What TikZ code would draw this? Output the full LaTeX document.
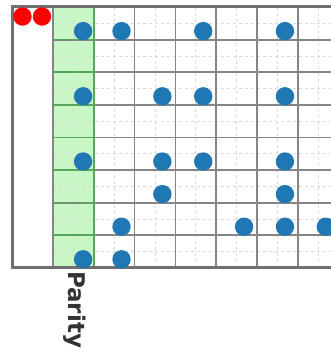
\documentclass[tikz,border=0pt]{standalone}
\usepackage{fontspec}
\usepackage{tikz}
\usepackage{xcolor}
\newfontfamily\paritylabelfont{DejaVu Sans}
\definecolor{bitblue}{HTML}{1F77B4}
\definecolor{paritygreen}{HTML}{C8F7C5}
\definecolor{parityedge}{HTML}{4CAF50}
\definecolor{majorgray}{HTML}{858585}
\definecolor{minorgray}{HTML}{DADADA}
\definecolor{framegray}{HTML}{707070}

\begin{document}
\begin{tikzpicture}[x=1pt,y=-1pt,
  bit/.style={fill=bitblue},
  flag/.style={fill=red},
  minorline/.style={minorgray, dashed, line width=0.8pt},
  majorline/.style={majorgray, line width=1.8pt},
  paritycell/.style={parityedge, line width=1.6pt, opacity=0.8}]
  \useasboundingbox (0,0) rectangle (331,354); \clip (0,0) rectangle (331,354);
  \def\cw{40.86} \def\rh{32.6}
  \fill[paritygreen] (53,7) rectangle (94,268);
  \foreach \c in {1,...,7} \draw[minorline] ({12+\cw*(\c+0.5)},7) -- ({12+\cw*(\c+0.5)},268);
  \foreach \r in {0,...,7} \draw[minorline] (53,{7+\rh*(\r+0.5)}) -- (345,{7+\rh*(\r+0.5)});
  \foreach \c in {1,...,8} \draw[majorline] ({12+\cw*\c},7) -- ({12+\cw*\c},268);
  \foreach \r in {1,...,7} \draw[majorline] (53,{7+\rh*\r}) -- (345,{7+\rh*\r});
  \foreach \r in {1,...,7} \draw[paritycell] (53,{7+\rh*\r}) -- (94,{7+\rh*\r});
  \draw[paritycell] (94,7) -- (94,268);
  \draw[framegray, line width=3pt] (345,6) -- (12.5,6) -- (12.5,267.5) -- (345,267.5);
  \fill[flag] (22.5,16.5) circle (9.2pt); \fill[flag] (42,16.5) circle (9.2pt);
  % parity bits sit a little further right in their column
  \foreach \r in {0,2,4,7} \fill[bit] ({12+\cw*1.74},{7+\rh*(\r+0.74)}) circle (9.2pt);
  \foreach \c/\r in {2/0,4/0,6/0, 3/2,4/2,6/2, 3/4,4/4,6/4, 3/5,6/5, 2/6,5/6,6/6,7/6, 2/7}
    \fill[bit] ({12+\cw*(\c+0.68)},{7+\rh*(\r+0.74)}) circle (9.2pt);
  \node[rotate=-90, anchor=base west, inner sep=0pt, text=black!80] (parity) at (68,271) {\paritylabelfont\bfseries\fontsize{23}{23}\selectfont Parity};
\end{tikzpicture}
\end{document}
